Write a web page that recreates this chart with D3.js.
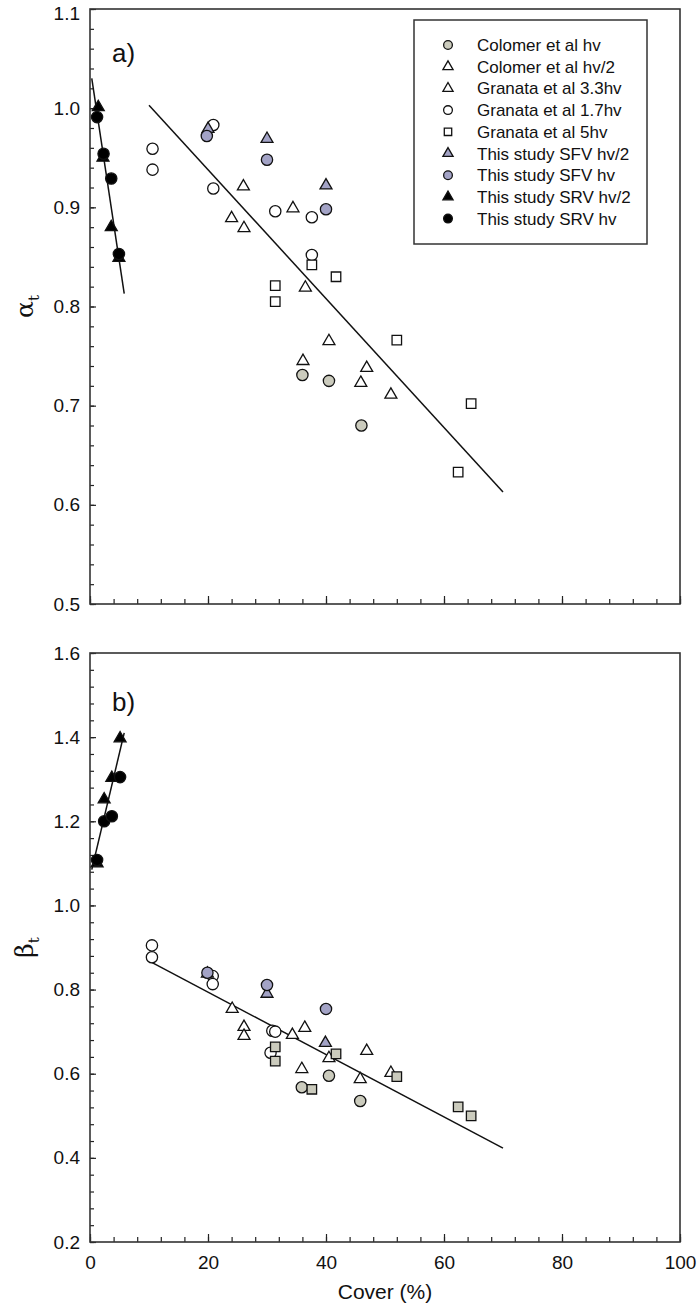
<!DOCTYPE html>
<html>
<head>
<meta charset="utf-8">
<script src="https://cdn.jsdelivr.net/npm/d3@7"></script>
<style>
    body { margin: 0; background: #fff; }
    text { font-family: "Liberation Sans", Arial, sans-serif; fill: #111; }
</style>
</head>
<body>
<svg id="chart" width="700" height="1306"></svg>
<script>
"use strict";

/* -------------------- data -------------------- */
var coverTicks = [0, 20, 40, 60, 80, 100];
var alphaTicks = [0.5, 0.6, 0.7, 0.8, 0.9, 1.0, 1.1];
var betaTicks = [0.2, 0.4, 0.6, 0.8, 1.0, 1.2, 1.4, 1.6];

var seriesNames = [
    "Colomer et al hv", "Colomer et al hv/2", "Granata et al 3.3hv",
    "Granata et al 1.7hv", "Granata et al 5hv", "This study SFV hv/2",
    "This study SFV hv", "This study SRV hv/2", "This study SRV hv"
];

// panel a) alpha_t vs cover
var colomerHvA = [[36, 0.731], [40.5, 0.725], [46, 0.680]];
var colomerHalfA = [[36.1, 0.745], [40.5, 0.765], [45.9, 0.723]];
var granata33A = [[24, 0.889], [26, 0.921], [26.1, 0.879], [34.4, 0.899], [36.5, 0.819], [46.9, 0.738], [51, 0.711]];
var granata17A = [[10.6, 0.959], [10.6, 0.938], [20.9, 0.983], [20.9, 0.919], [31.4, 0.896], [37.6, 0.890], [37.6, 0.852]];
var granata5A = [[31.4, 0.821], [31.4, 0.805], [37.6, 0.842], [41.7, 0.830], [52, 0.766], [64.6, 0.702], [62.4, 0.633]];
var sfvHalfA = [[20, 0.979], [30, 0.969], [40, 0.922]];
var sfvHvA = [[19.8, 0.972], [30, 0.948], [40, 0.898]];
var srvHalfA = [[1.4, 1.001], [2.2, 0.950], [3.6, 0.880], [4.9, 0.849]];
var srvHvA = [[1.2, 0.991], [2.3, 0.954], [3.6, 0.929], [4.9, 0.853]];
var fitA1 = [[0.3, 1.030], [5.8, 0.813]];
var fitA2 = [[10, 1.003], [70, 0.613]];

// panel b) beta_t vs cover
var colomerHvB = [[35.9, 0.568], [40.5, 0.595], [45.8, 0.535]];
var colomerHalfB = [[35.9, 0.611], [40.5, 0.637], [45.8, 0.587]];
var granata33B = [[24.1, 0.754], [26.1, 0.711], [26.1, 0.690], [34.3, 0.692], [36.4, 0.709], [46.9, 0.654], [51, 0.602]];
var granata17B = [[10.5, 0.905], [10.5, 0.877], [20.8, 0.832], [20.8, 0.813], [30.6, 0.650], [30.9, 0.702], [31.4, 0.700]];
var granata5B = [[31.4, 0.664], [31.4, 0.630], [37.6, 0.563], [41.7, 0.647], [52, 0.593], [62.4, 0.521], [64.6, 0.500]];
var sfvHalfB = [[19.9, 0.838], [30, 0.790], [39.9, 0.673]];
var sfvHvB = [[19.9, 0.840], [30, 0.811], [40, 0.754]];
var srvHalfB = [[1.2, 1.100], [2.4, 1.252], [3.7, 1.303], [5.1, 1.397]];
var srvHvB = [[1.2, 1.108], [2.4, 1.200], [3.7, 1.212], [5.1, 1.305]];
var fitB1 = [[0.3, 1.085], [5.8, 1.410]];
var fitB2 = [[10.3, 0.866], [70, 0.423]];

/* -------------------- styles -------------------- */
var GRAY = "#cbcbbd", PURPLE = "#a3a3c6";
var styles = [
    { shape: d3.symbolCircle, fill: GRAY },
    { shape: d3.symbolTriangle, fill: "#fff" },
    { shape: d3.symbolTriangle, fill: "#fff" },
    { shape: d3.symbolCircle, fill: "#fff" },
    { shape: d3.symbolSquare, fill: "#fff", fillB: GRAY },
    { shape: d3.symbolTriangle, fill: PURPLE },
    { shape: d3.symbolCircle, fill: PURPLE },
    { shape: d3.symbolTriangle, fill: "#000" },
    { shape: d3.symbolCircle, fill: "#000" }
];
var symbolSize = { circle: 100, triangle: 62, square: 90 };

var panelA = {
    series: [colomerHvA, colomerHalfA, granata33A, granata17A, granata5A, sfvHalfA, sfvHvA, srvHalfA, srvHvA],
    fits: [fitA1, fitA2],
    ticks: alphaTicks, minorStep: 0.02,
    top: 9, bottom: 604, label: "a)", labelY: 62,
    sym: "α", showX: false, isB: false
};
var panelB = {
    series: [colomerHvB, colomerHalfB, granata33B, granata17B, granata5B, sfvHalfB, sfvHvB, srvHalfB, srvHvB],
    fits: [fitB1, fitB2],
    ticks: betaTicks, minorStep: 0.04,
    top: 653, bottom: 1242, label: "b)", labelY: 711,
    sym: "β", showX: true, isB: true
};

var svg = d3.select("#chart");
var left = 90, right = 680;

var x = d3.scaleLinear().domain([0, 100]).range([left, right]);

function sizeOf(shape) {
    if (shape === d3.symbolTriangle) return symbolSize.triangle;
    if (shape === d3.symbolSquare) return symbolSize.square;
    return symbolSize.circle;
}

function draw_panel(p) {
    var ext = d3.extent(p.ticks);
    var y = d3.scaleLinear().domain(ext).range([p.bottom, p.top]);
    var g = svg.append("g");

    // minor / major ticks, pointing inward
    var minors = d3.range(ext[0], ext[1] + 1e-9, p.minorStep);
    g.append("g")
        .attr("transform", "translate(" + left + ",0)")
        .call(d3.axisLeft(y).tickValues(minors).tickSize(-4).tickFormat(""))
        .call(function (s) { s.select(".domain").remove(); });
    g.append("g")
        .attr("class", "yaxis")
        .attr("transform", "translate(" + left + ",0)")
        .call(d3.axisLeft(y).tickValues(p.ticks).tickSize(-6).tickPadding(10).tickFormat(d3.format(".1f")))
        .call(function (s) { s.select(".domain").remove(); });

    var xMinors = d3.range(0, 100.001, 4);
    g.append("g")
        .attr("transform", "translate(0," + p.bottom + ")")
        .call(d3.axisBottom(x).tickValues(xMinors).tickSize(-5).tickFormat(""))
        .call(function (s) { s.select(".domain").remove(); });
    g.append("g")
        .attr("class", "xaxis")
        .attr("transform", "translate(0," + p.bottom + ")")
        .call(d3.axisBottom(x).tickValues(coverTicks).tickSize(-8).tickPadding(14)
            .tickFormat(p.showX ? d3.format("d") : ""))
        .call(function (s) { s.select(".domain").remove(); });

    g.selectAll(".tick line").attr("stroke", "#222").attr("stroke-width", 1.2);
    g.selectAll(".yaxis text, .xaxis text").style("font-size", "19px").attr("fill", "#111");
    // keep the top label of panel a inside the page
    g.selectAll(".yaxis .tick text")
        .filter(function (d) { return y(d) < 15; })
        .attr("dy", "0.55em");

    // frame
    g.append("rect")
        .attr("x", left).attr("y", p.top)
        .attr("width", right - left).attr("height", p.bottom - p.top)
        .attr("fill", "none").attr("stroke", "#333").attr("stroke-width", 1.6);

    // regression lines
    var line = d3.line()
        .x(function (d) { return x(d[0]); })
        .y(function (d) { return y(d[1]); });
    p.fits.forEach(function (f) {
        g.append("path").datum(f)
            .attr("d", line)
            .attr("fill", "none").attr("stroke", "#111").attr("stroke-width", 1.5);
    });

    // points
    p.series.forEach(function (data, i) {
        var st = styles[i];
        var fill = (p.isB && st.fillB) ? st.fillB : st.fill;
        g.selectAll(null).data(data).enter()
            .append("path")
            .attr("d", d3.symbol().type(st.shape).size(sizeOf(st.shape)))
            .attr("transform", function (d) { return "translate(" + x(d[0]) + "," + y(d[1]) + ")"; })
            .attr("fill", fill)
            .attr("stroke", "#111")
            .attr("stroke-width", 1.3);
    });

    // panel letter
    g.append("text")
        .attr("x", 112).attr("y", p.labelY)
        .style("font-size", "26px")
        .text(p.label);

    // y title
    var cy = (p.top + p.bottom) / 2;
    var t = g.append("text")
        .attr("transform", "translate(33," + cy + ") rotate(-90)")
        .attr("text-anchor", "middle")
        .style("font-size", "25px")
        .style("font-family", "'DejaVu Serif', serif");
    t.append("tspan").text(p.sym);
    t.append("tspan").attr("dy", 6).style("font-size", "15px").text("t");
}

draw_panel(panelA);
draw_panel(panelB);

// x title
svg.append("text")
    .attr("x", (left + right) / 2).attr("y", 1299)
    .attr("text-anchor", "middle")
    .style("font-size", "21px")
    .text("Cover (%)");

/* -------------------- legend -------------------- */
var legend = svg.append("g");
legend.append("rect")
    .attr("x", 414).attr("y", 20).attr("width", 233).attr("height", 224)
    .attr("fill", "#fff").attr("stroke", "#333").attr("stroke-width", 1.5);

seriesNames.forEach(function (name, i) {
    var st = styles[i];
    var ly = 45 + i * 21.7;
    var size = st.shape === d3.symbolTriangle ? 45 : (st.shape === d3.symbolSquare ? 55 : 60);
    legend.append("path")
        .attr("d", d3.symbol().type(st.shape).size(size))
        .attr("transform", "translate(448," + ly + ")")
        .attr("fill", st.fill).attr("stroke", "#111").attr("stroke-width", 1.3);
    legend.append("text")
        .attr("x", 477).attr("y", ly + 6)
        .style("font-size", "17px")
        .text(name);
});
</script>
</body>
</html>
